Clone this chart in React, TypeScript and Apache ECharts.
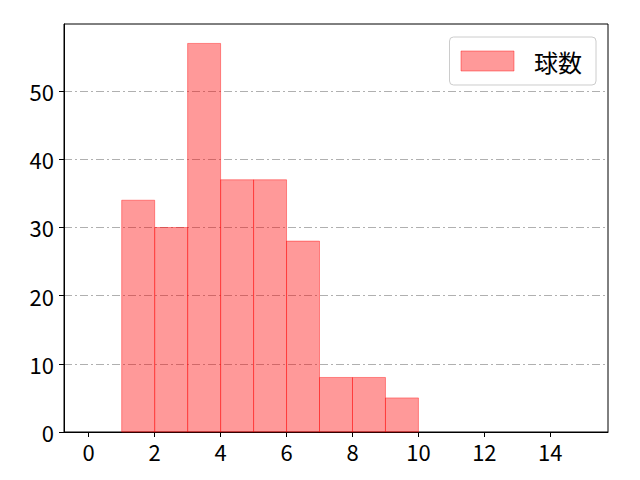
import React, { useEffect, useRef } from 'react';
import * as echarts from 'echarts';

// histogram bins: [start, end)
const binStarts = [0, 1, 2, 3, 4, 5, 6, 7, 8, 9, 10, 11, 12, 13, 14];
const binEnds = [1, 2, 3, 4, 5, 6, 7, 8, 9, 10, 11, 12, 13, 14, 15];
const counts = [0, 34, 30, 57, 37, 37, 28, 8, 8, 5, 0, 0, 0, 0, 0];
const xTicks = [0, 2, 4, 6, 8, 10, 12, 14];
const seriesName = '球数';

const FONT = '"Noto Sans CJK JP", "Noto Sans", sans-serif';
const FILL = 'rgba(255, 0, 0, 0.4)';

const App: React.FC = () => {
  const chartRef = useRef<HTMLDivElement>(null);

  useEffect(() => {
    if (!chartRef.current) return;
    const chart = echarts.init(chartRef.current, undefined, { renderer: 'svg' });

    const data = binStarts.map((s, i) => [s, binEnds[i], counts[i]]);

    const option: echarts.EChartsOption = {
      animation: false,
      textStyle: { fontFamily: FONT, color: '#000' },
      grid: {
        left: 64,
        top: 24,
        width: 544,
        height: 408,
        show: true,
        borderColor: '#000',
        borderWidth: 1,
        backgroundColor: 'transparent',
      },
      legend: {
        right: 44,
        top: 37,
        icon: 'rect',
        itemWidth: 53,
        itemHeight: 20,
        itemGap: 0,
        padding: [12, 14, 12, 11],
        borderColor: '#cccccc',
        borderWidth: 1,
        borderRadius: 4,
        textStyle: { fontFamily: FONT, fontSize: 24, color: '#000', padding: [0, 0, 0, 15] },
        data: [{ name: seriesName, itemStyle: { color: FILL, borderColor: FILL, borderWidth: 1 } }],
      },
      xAxis: {
        type: 'value',
        min: -0.75,
        max: 15.75,
        splitLine: { show: false },
        axisLine: { show: true, onZero: false, lineStyle: { color: '#000', width: 1 } },
        axisTick: { show: true, length: 5, lineStyle: { color: '#000' }, customValues: xTicks },
        axisLabel: {
          customValues: xTicks,
          fontSize: 22,
          color: '#000',
          fontFamily: FONT,
          margin: 8,
        },
      },
      yAxis: {
        type: 'value',
        min: 0,
        max: 59.85,
        interval: 10,
        axisLine: { show: true, onZero: false, lineStyle: { color: '#000', width: 1 } },
        axisTick: { show: true, length: 5, lineStyle: { color: '#000' } },
        axisLabel: {
          fontSize: 22,
          color: '#000',
          fontFamily: FONT,
          margin: 10,
          showMaxLabel: false,
        },
        splitLine: {
          show: true,
          showMinLine: false,
          showMaxLine: false,
          lineStyle: { color: '#b0b0b0', width: 1, type: [8, 3, 2, 3] },
        },
      },
      series: [
        {
          name: seriesName,
          type: 'custom',
          itemStyle: { color: FILL, borderColor: FILL },
          encode: { x: [0, 1], y: 2 },
          renderItem: (params: any, api: any) => {
            const h = api.value(2);
            if (!h) return null;
            const p0 = api.coord([api.value(0), h]);
            const p1 = api.coord([api.value(1), 0]);
            return {
              type: 'rect',
              shape: { x: p0[0], y: p0[1], width: p1[0] - p0[0], height: p1[1] - p0[1] },
              style: { fill: FILL, stroke: FILL, lineWidth: 1 },
            };
          },
          data,
        },
      ],
    };

    chart.setOption(option);
    return () => {
      chart.dispose();
    };
  }, []);

  return (
    <div
      ref={chartRef}
      style={{ position: 'fixed', left: 0, top: 0, width: 640, height: 480, background: '#fff' }}
    />
  );
};

export default App;
